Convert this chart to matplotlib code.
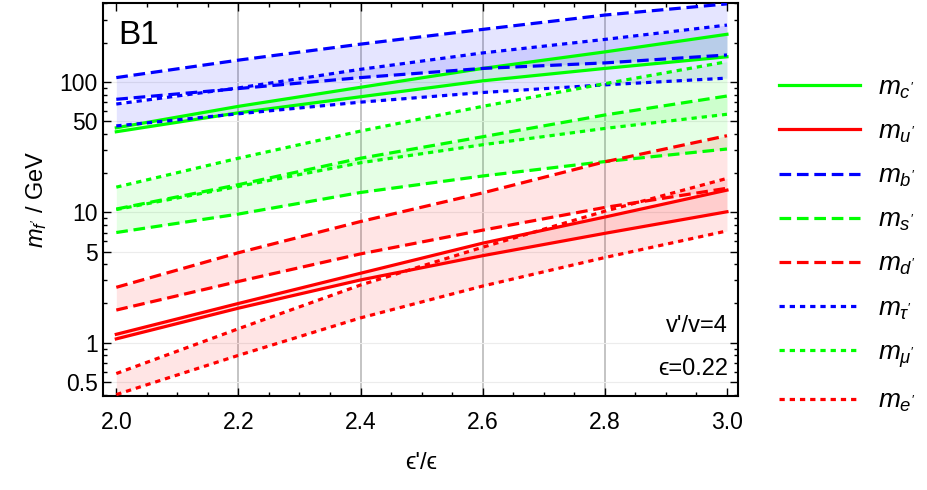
import matplotlib
matplotlib.use('Agg')
import matplotlib.pyplot as plt
from matplotlib.ticker import FixedLocator, NullFormatter

plt.rcParams['font.family'] = ['Liberation Sans', 'DejaVu Sans']
plt.rcParams['mathtext.fontset'] = 'custom'
plt.rcParams['mathtext.rm'] = 'Liberation Sans'
plt.rcParams['mathtext.it'] = 'Liberation Sans:italic'

x = [2.0, 2.2, 2.4, 2.6, 2.8, 3.0]

# upper / lower bound of each mass (GeV)
mc_hi = [44.5, 65, 91, 127, 170, 232]
mc_lo = [41.5, 58, 77, 102, 127, 156]
mu_hi = [1.16, 2.0, 3.41, 5.8, 9.2, 14.8]
mu_lo = [1.07, 1.84, 3.03, 4.65, 6.9, 10.1]
mb_hi = [108, 147, 195, 253, 326, 397]
mb_lo = [73.6, 89, 108, 127, 140, 161]
ms_hi = [10.6, 16.3, 26, 38, 55.8, 78]
ms_lo = [7.0, 9.7, 14.2, 19, 24.5, 30.6]
md_hi = [2.66, 4.9, 8.5, 14.1, 24.4, 38.7]
md_lo = [1.78, 2.95, 4.8, 7.3, 10.9, 15.3]
mtau_hi = [67.7, 90, 125, 167, 212, 273]
mtau_lo = [46, 57, 70, 83, 95, 107]
mmu_hi = [15.6, 26, 42, 65, 97, 143]
mmu_lo = [10.5, 15.8, 24, 33, 44, 56.5]
me_hi = [0.58, 1.28, 2.77, 5.4, 10.2, 18.2]
me_lo = [0.40, 0.80, 1.55, 2.72, 4.5, 7.2]

labels = [r"$m_{c'}$", r"$m_{u'}$", r"$m_{b'}$", r"$m_{s'}$",
          r"$m_{d'}$", r"$m_{\tau'}$", r"$m_{\mu'}$", r"$m_{e'}$"]
highs = [mc_hi, mu_hi, mb_hi, ms_hi, md_hi, mtau_hi, mmu_hi, me_hi]
lows = [mc_lo, mu_lo, mb_lo, ms_lo, md_lo, mtau_lo, mmu_lo, me_lo]

GREEN = '#00ff00'
RED = '#ff0000'
BLUE = '#0000ff'
colors = [GREEN, RED, BLUE, GREEN, RED, BLUE, GREEN, RED]
solid = '-'
dashed = (0, (3.65, 1.8))
dotted = (0, (1.65, 1.55))
styles = [solid, solid, dashed, dashed, dashed, dotted, dotted, dotted]

x_major = [2.0, 2.2, 2.4, 2.6, 2.8, 3.0]
x_grid = [2.2, 2.4, 2.6, 2.8]
y_major = [0.5, 1, 5, 10, 50, 100]
y_major_labels = ['0.5', '1', '5', '10', '50', '100']

fig = plt.figure(figsize=(9.28, 4.9), dpi=100)
ax = fig.add_axes([0.1115, 0.1918, 0.6837, 0.802])

# grid
for g in x_grid:
    ax.axvline(g, color='#c4c4c4', lw=1.4, zorder=0)
for g in y_major:
    ax.axhline(g, color='#ececec', lw=0.8, zorder=0)

# bands
for hi, lo, c in zip(highs, lows, colors):
    ax.fill_between(x, lo, hi, color=c, alpha=0.1, lw=0, zorder=1)

# curves
handles = []
for hi, lo, c, ls, lab in zip(highs, lows, colors, styles, labels):
    for ys in (hi, lo):
        ln, = ax.plot(x, ys, color=c, lw=2.3, linestyle=ls,
                      dash_capstyle='butt', zorder=3)
    handles.append(ln)

ax.set_yscale('log')
ax.set_xlim(1.979, 3.018)
ax.set_ylim(0.39, 403)

ax.xaxis.set_major_locator(FixedLocator(x_major))
ax.set_xticklabels([f'{v:.1f}' for v in x_major])
ax.xaxis.set_minor_locator(FixedLocator([2.0 + 0.05 * i for i in range(21)]))
ax.yaxis.set_major_locator(FixedLocator(y_major))
ax.set_yticklabels(y_major_labels)
ymin = []
for dec in [0.1, 1, 10, 100]:
    for k in range(2, 10):
        if k != 5:
            ymin.append(k * dec)
ax.yaxis.set_minor_locator(FixedLocator(ymin))
ax.yaxis.set_minor_formatter(NullFormatter())

ax.tick_params(which='both', direction='in', top=True, right=True,
               labelsize=16.5, width=1.0)
ax.tick_params(which='major', length=5.5)
ax.tick_params(which='minor', length=3)
ax.tick_params(axis='x', pad=11)
ax.tick_params(axis='y', pad=4)
for sp in ax.spines.values():
    sp.set_linewidth(1.5)

ax.set_xlabel("ϵ'/ϵ", fontsize=17, labelpad=13)
ax.set_ylabel(r"$m_{f'}$ / GeV", fontsize=17, labelpad=8)

ax.text(0.023, 0.896, 'B1', transform=ax.transAxes, fontsize=24)
ax.text(0.984, 0.164, "v'/v=4", transform=ax.transAxes, fontsize=17,
        ha='right')
ax.text(0.984, 0.053, "ϵ=0.22", transform=ax.transAxes, fontsize=17,
        ha='right')

fig.legend(handles, labels, loc='upper left', bbox_to_anchor=(0.8394, 0.846),
           frameon=False, fontsize=19, handlelength=3.07, handletextpad=0.68,
           labelspacing=0.72, borderpad=0, borderaxespad=0)

fig.savefig('out.png', dpi=100)
